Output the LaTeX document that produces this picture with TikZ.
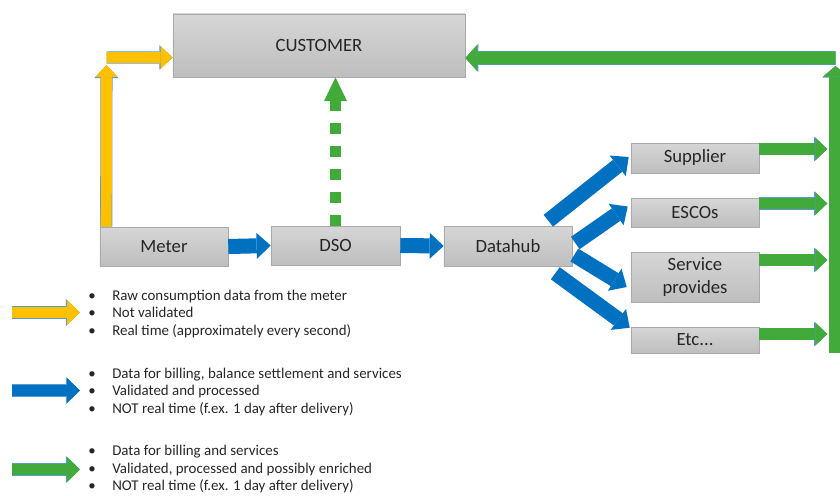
\documentclass[tikz,border=0pt]{standalone}
\usepackage{fontspec}
\setmainfont{Carlito}
\usetikzlibrary{arrows.meta,calc}

\definecolor{ayellow}{RGB}{255,192,0}
\definecolor{ablue}{RGB}{0,112,192}
\definecolor{agreen}{RGB}{65,170,58}
\definecolor{aline}{RGB}{91,155,213}
\definecolor{boxtop}{RGB}{214,214,214}
\definecolor{boxbot}{RGB}{190,190,190}
\definecolor{boxline}{RGB}{170,170,170}

\newcommand{\litem}[1]{\makebox[0.6cm][l]{\textbullet}#1}

\tikzset{
	box/.style={draw=boxline, top color=boxtop, bottom color=boxbot, inner sep=0pt, text=black!85, align=center, font=\fontsize{13.3}{16}\selectfont},
	key/.style={align=left, inner sep=0pt, text=black!85, font=\fontsize{10.6}{12.45}\selectfont},
	bluearrow/.style={draw=ablue, line width=10.7pt, -{Triangle[width=18.5pt,length=10pt,line width=0pt]}},
	greenarrow/.style={draw=agreen, line width=8.5pt, -{Triangle[width=16.4pt,length=8.5pt,line width=0pt]}, preaction={draw=aline, line width=9.2pt, -{Triangle[width=17.4pt,length=9.3pt,line width=0pt]}}},
	busarrow/.style={draw=agreen, line width=9pt, -{Triangle[width=18pt,length=7.5pt,line width=0pt]}, preaction={draw=aline, line width=9.7pt, -{Triangle[width=19pt,length=8.3pt,line width=0pt]}}},
	toparrow/.style={draw=agreen, line width=9pt, -{Triangle[width=19pt,length=8.5pt,line width=0pt]}, preaction={draw=aline, line width=9.7pt, -{Triangle[width=20pt,length=9.3pt,line width=0pt]}}},
	greendash/.style={draw=agreen, line width=8pt, dash pattern=on 7.8pt off 8.5pt, -{Triangle[width=16.4pt,length=17pt,line width=0pt]}},
	yarrow/.style={draw=ayellow, line width=7.8pt, -{Triangle[width=16pt,length=8.5pt,line width=0pt]}, preaction={draw=aline, line width=8.6pt, -{Triangle[width=17.4pt,length=9.4pt,line width=0pt]}}},
	keyarrow/.style={line width=8.5pt, -{Triangle[width=17.8pt,length=9.2pt,line width=0pt]}, preaction={draw=aline, line width=9.2pt, -{Triangle[width=19pt,length=10pt,line width=0pt]}}}
}

\begin{document}
\begin{tikzpicture}[x=0.025cm, y=-0.025cm]
	\useasboundingbox (0,0) rectangle (840,495);

	% boxes
	\node [box, minimum width=7.3cm, minimum height=1.575cm] (customer) at (319,45.5) {CUSTOMER};
	\node [box, minimum width=3.2cm, minimum height=0.975cm] (meter) at (164,246.5) {Meter};
	\node [box, minimum width=3.225cm, minimum height=0.975cm] (dso) at (335.5,245.5) {DSO};
	\node [box, minimum width=3.2cm, minimum height=1cm] (datahub) at (508,246) {Datahub};
	\node [box, minimum width=3.2cm, minimum height=0.75cm] (supplier) at (695,158) {Supplier};
	\node [box, minimum width=3.2cm, minimum height=0.725cm] (escos) at (695,212.5) {ESCOs};
	\node [box, minimum width=3.2cm, minimum height=1.25cm] (service) at (695,277) {Service\\provides};
	\node [box, minimum width=3.2cm, minimum height=0.65cm] (etc) at (695,340) {Etc...};

	% raw data to the customer
	\coordinate (ybend) at (106.5,65);
	\draw [yarrow] ($(meter.north west)+(6.5,0)$) -- (ybend);
	\draw [yarrow] ($(ybend)+(0,-7.5)$) -- ($(customer.west)+(0,12)$);

	\draw [greendash] (dso.north) -- (dso.north |- customer.south);

	\draw [bluearrow] (meter.east) -- (dso.west);
	\draw [bluearrow] (dso.east) -- (datahub.west);
	\draw [bluearrow] ($(datahub.north east)+(-24,-5)$) -- ($(supplier.west)+(-2,-1)$);
	\draw [bluearrow] ($(datahub.east)+(3,-3)$) -- ($(escos.west)+(-3,-6)$);
	\draw [bluearrow] ($(datahub.east)+(2,9)$) -- ($(service.west)+(-4,10)$);
	\draw [bluearrow] ($(datahub.south east)+(-17,7)$) -- ($(etc.north west)+(-1,1)$);

	% bus back to the customer
	\coordinate (busbot) at (835.5,353);
	\coordinate (bustop) at (835.5,66);
	\draw [busarrow] (busbot) -- (bustop);
	\draw [toparrow] ($(bustop)+(0,-8)$) -- ($(customer.east)+(0,12.5)$);

	\draw [greenarrow] ($(supplier.east)+(0,-9)$) -- ($(supplier.east)+(68,-9)$);
	\draw [greenarrow] ($(escos.east)+(0,-9)$) -- ($(escos.east)+(68,-9)$);
	\draw [greenarrow] ($(service.east)+(0,-17)$) -- ($(service.east)+(68,-17)$);
	\draw [greenarrow] ($(etc.east)+(0,-6)$) -- ($(etc.east)+(68,-6)$);

	% legend
	\coordinate (ka) at (12,312.5); \coordinate (kb) at (80,312.5);
	\coordinate (kc) at (12,390.5); \coordinate (kd) at (80,390.5);
	\coordinate (ke) at (12,469.5); \coordinate (kf) at (80,469.5);
	\draw [keyarrow, draw=ayellow] (ka) -- (kb);
	\draw [keyarrow, draw=ablue] (kc) -- (kd);
	\draw [keyarrow, draw=agreen] (ke) -- (kf);

	\node [key, anchor=west] (keyraw) at (88,314) {\litem{Raw consumption data from the meter}\\\litem{Not validated}\\\litem{Real time (approximately every second)}};
	\node [key, anchor=west] (keybilling) at (88,392) {\litem{Data for billing, balance settlement and services}\\\litem{Validated and processed}\\\litem{NOT real time (f.ex. 1 day after delivery)}};
	\node [key, anchor=west] (keyservices) at (88,469.5) {\litem{Data for billing and services}\\\litem{Validated, processed and possibly enriched}\\\litem{NOT real time (f.ex. 1 day after delivery)}};
\end{tikzpicture}
\end{document}
